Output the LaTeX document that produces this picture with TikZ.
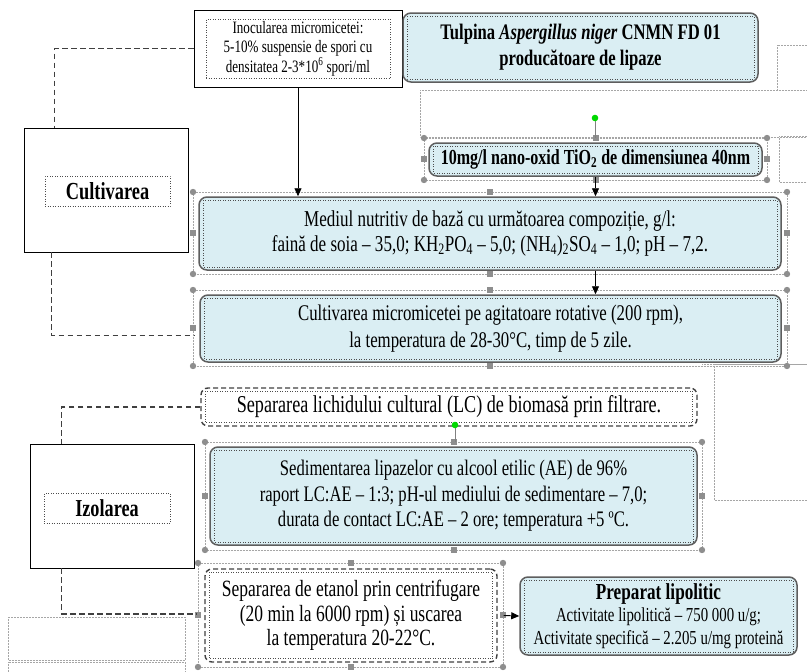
\documentclass[tikz,border=0pt]{standalone}
\usepackage{fontspec}
\setmainfont[FakeStretch=0.75]{Liberation Serif}
\usetikzlibrary{arrows.meta}
\definecolor{boxblue}{HTML}{DAEEF3}
\definecolor{boxedge}{HTML}{5E5E5E}
\definecolor{hnd}{HTML}{8E8E8E}
\tikzset{
  bluebox/.style={draw=boxedge,line width=1.5pt,fill=boxblue,rounded corners=8pt,align=center,inner sep=0pt},
  plainbox/.style={draw=black,line width=0.8pt,inner sep=0pt},
  dashbox/.style={draw=black!75,line width=1.4pt,dash pattern=on 5pt off 3pt,rounded corners=7pt,align=center,inner sep=0pt},
  dotfrm/.style={draw=black!70,line width=0.5pt,dotted},
  selfrm/.style={draw=gray!70,line width=0.5pt,densely dotted},
  link/.style={draw=black!75,line width=1.3pt,dash pattern=on 5.5pt off 3.5pt},
  flow/.style={-{Triangle[length=8pt,width=7pt]},line width=0.9pt},
  txt/.style={font=\fontsize{22.7}{24.5}\selectfont},
}
\begin{document}
\begin{tikzpicture}[x=1pt,y=-1pt]
  \useasboundingbox (0,0) rectangle (807,672);
  % frames of the page
  \foreach \xa/\ya/\xb/\yb in {420/90/815/137, 777/45/815/90, 779/136/815/182, 714/364/815/500, 8/617/185/660, 8/662/185/680}
    \draw[selfrm] (\xa,\ya) rectangle (\xb,\yb);
  \draw[selfrm] (702,364) -- (807,364);

  \node[plainbox,minimum width=208,minimum height=77] (inoc) at (298,48.5) {};
  \node[dotfrm,minimum width=184,minimum height=59,align=center,inner sep=0pt,font=\fontsize{17.4}{19.5}\selectfont] (inoclbl) at (298,48.5)
    {Inocularea micromicetei:\\5-10\% suspensie de spori cu\\densitatea 2-3*10\textsuperscript{6} spori/ml};
  \node[bluebox,minimum width=355,minimum height=69,font=\bfseries\fontsize{22.2}{26}\selectfont] (tulpina) at (580.5,47.5)
    {Tulpina \textit{Aspergillus niger} CNMN FD 01\\producătoare de lipaze};
  \node[bluebox,minimum width=333,minimum height=33,font=\bfseries\fontsize{21.4}{22}\selectfont] (tio) at (595.5,159.5)
    {10mg/l nano-oxid TiO\textsubscript{2} de dimensiunea 40nm};
  \node[bluebox,txt,minimum width=582,minimum height=73] (mediul) at (490,233.5)
    {Mediul nutritiv de bază cu următoarea compoziție, g/l:\\
     faină de soia -- 35,0; KH\textsubscript{2}PO\textsubscript{4} -- 5,0; (NH\textsubscript{4})\textsubscript{2}SO\textsubscript{4} -- 1,0; pH -- 7,2.};
  \node[bluebox,minimum width=581,minimum height=67,font=\fontsize{22.4}{27}\selectfont] (cultiv) at (490.5,328.5)
    {Cultivarea micromicetei pe agitatoare rotative (200 rpm),\\la temperatura de 28-30°C, timp de 5 zile.};
  \node[plainbox,minimum width=164,minimum height=124] (cultbox) at (106,190) {};
  \node[dotfrm,minimum width=125,minimum height=30,inner sep=0pt,font=\bfseries\fontsize{24.5}{26}\selectfont] (cultlbl) at (107.5,191) {Cultivarea};

  \node[dashbox,minimum width=496,minimum height=38,font=\fontsize{24.2}{25}\selectfont] (seplc) at (449,407)
    {Separarea lichidului cultural (LC) de biomasă prin filtrare.};
  \node[bluebox,minimum width=487,minimum height=98,font=\fontsize{22.2}{25.5}\selectfont] (sedim) at (453.5,496)
    {Sedimentarea lipazelor cu alcool etilic (AE) de 96\%\\
     raport LC:AE -- 1:3; pH-ul mediului de sedimentare -- 7,0;\\
     durata de contact LC:AE -- 2 ore; temperatura +5 ºC.};
  \node[plainbox,minimum width=164,minimum height=124] (izolbox) at (112,506) {};
  \node[dotfrm,minimum width=126,minimum height=30,inner sep=0pt,font=\bfseries\fontsize{24.3}{26}\selectfont] (izollbl) at (107,508) {Izolarea};
  \node[dashbox,minimum width=292,minimum height=93,font=\fontsize{23.3}{24.5}\selectfont] (etanol) at (351,615.5)
    {Separarea de etanol prin centrifugare\\(20 min la 6000 rpm) și uscarea\\la temperatura 20-22°C.};
  \node[bluebox,minimum width=277,minimum height=78,font=\fontsize{19.8}{22.5}\selectfont] (prep) at (658.5,616)
    {{\bfseries\fontsize{22.9}{22}\selectfont Preparat lipolitic}\\Activitate lipolitică -- 750 000 u/g;\\Activitate specifică -- 2.205 u/mg proteină};

  \foreach \n in {tulpina,tio,mediul,cultiv,seplc,sedim,etanol,prep}
    \draw[dotfrm] ([shift={(5,4)}]\n.north west) rectangle ([shift={(-5,-4)}]\n.south east);

  % selected frames
  \foreach \xa/\ya/\xb/\yb in {424/138/767/180, 193/192/787/274, 193/290/787/366, 205/442/702/550, 198/563/503/667}{
    \draw[selfrm] (\xa,\ya) rectangle (\xb,\yb);
    \foreach \px/\py in {\xa/\ya,\xb/\ya,\xa/\yb,\xb/\yb}
      \fill[hnd] (\px,\py) circle (3.2);
    \foreach \px/\py in {{(\xa+\xb)/2}/\ya,{(\xa+\xb)/2}/\yb,\xa/{(\ya+\yb)/2},\xb/{(\ya+\yb)/2}}
      \fill[hnd] ({\px-3},{\py-3}) rectangle ({\px+3},{\py+3});
  }
  \draw[gray] (595,118) -- (595,138) (455,425) -- (455,442);
  \fill[green!85!black] (595,118) circle (3.3) (455,425) circle (3.3);

  \draw[link] (inoc.west) -| ([xshift=31pt]cultbox.north west);
  \draw[link] ([xshift=28pt]cultbox.south west) |- ([xshift=-4pt,yshift=-7pt]cultiv.west);
  \draw[link] (seplc.west) -| ([xshift=32pt]izolbox.north west);
  \draw[link] ([xshift=32pt]izolbox.south west) |- ([xshift=-7pt,yshift=1.5pt]etanol.west);

  \draw[flow] (inoc.south) -- (inoc.south |- mediul.north);
  \draw[flow] (tio.south) -- (tio.south |- mediul.north);
  \draw[flow] (mediul.south -| tio.south) -- (cultiv.north -| tio.south);
  \draw[flow] ([xshift=6pt]etanol.east) -- (prep.west);
\end{tikzpicture}
\end{document}
